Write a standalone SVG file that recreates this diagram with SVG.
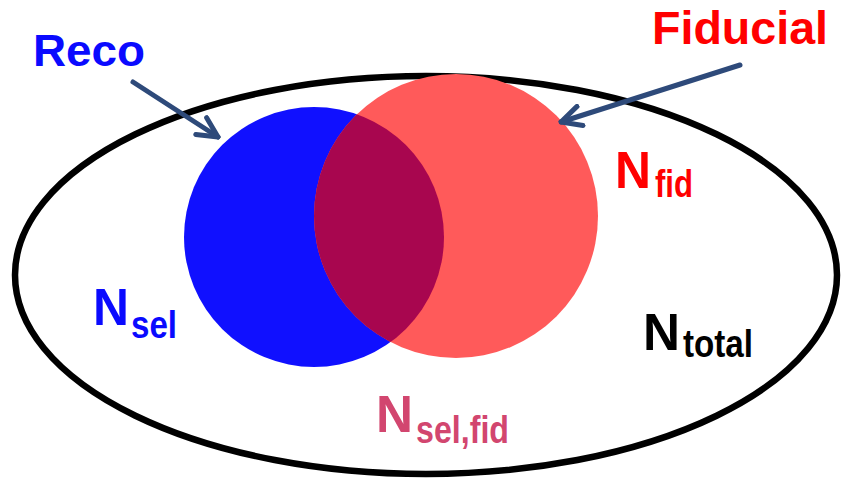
<svg xmlns="http://www.w3.org/2000/svg" width="844" height="485" viewBox="0 0 844 485">
<style>
text{font-family:"Liberation Sans",Arial,sans-serif;font-weight:bold}
.big{font-size:52px}
.sub{font-size:38px}
.conn{stroke:#2E4A7A;stroke-width:5;fill:none;stroke-linecap:round;stroke-linejoin:round}
</style>
<defs>
<marker id="arr" viewBox="0 0 10 10" refX="9" refY="5" markerWidth="5" markerHeight="5" orient="auto" markerUnits="strokeWidth">
<path d="M1,1 L9,5 L1,9" fill="none" stroke="#2E4A7A" stroke-width="2" stroke-linecap="round" stroke-linejoin="round"/>
</marker>
<clipPath id="blueClip"><circle cx="314" cy="237" r="130"/></clipPath>
</defs>
<g id="total">
<ellipse cx="426" cy="275" rx="411" ry="199" fill="none" stroke="#000" stroke-width="6.5"/>
</g>
<g id="reco">
<circle cx="314" cy="237" r="130" fill="#1010FF"/>
</g>
<g id="fiducial">
<circle cx="456" cy="216" r="142" fill="#FF5A5A"/>
</g>
<g id="overlap">
<circle cx="456" cy="216" r="142" fill="#A8064F" clip-path="url(#blueClip)"/>
</g>
<g id="connectors">
<line class="conn" x1="133" y1="82" x2="218" y2="137" marker-end="url(#arr)"/>
<line class="conn" x1="740" y1="65" x2="561" y2="122" marker-end="url(#arr)"/>
</g>
<g id="labels">
<text x="33" y="66" font-size="44" fill="#0A0AFF" textLength="112" lengthAdjust="spacingAndGlyphs">Reco</text>
<text x="652" y="44" font-size="46" fill="#FF0000" textLength="176" lengthAdjust="spacingAndGlyphs">Fiducial</text>
<text fill="#0A0AFF"><tspan class="big" x="93" y="325" textLength="36" lengthAdjust="spacingAndGlyphs">N</tspan><tspan class="sub" x="131" y="338" textLength="46" lengthAdjust="spacingAndGlyphs">sel</tspan></text>
<text fill="#FF0000"><tspan class="big" x="615" y="188" textLength="36" lengthAdjust="spacingAndGlyphs">N</tspan><tspan class="sub" x="655" y="197" textLength="38" lengthAdjust="spacingAndGlyphs">fid</tspan></text>
<text fill="#000"><tspan class="big" x="643" y="350" textLength="37" lengthAdjust="spacingAndGlyphs">N</tspan><tspan class="sub" x="683" y="357" textLength="70" lengthAdjust="spacingAndGlyphs">total</tspan></text>
<text fill="#D2466F"><tspan class="big" x="376" y="432" textLength="37" lengthAdjust="spacingAndGlyphs">N</tspan><tspan class="sub" x="416" y="443" textLength="93" lengthAdjust="spacingAndGlyphs">sel,fid</tspan></text>
</g>
</svg>
